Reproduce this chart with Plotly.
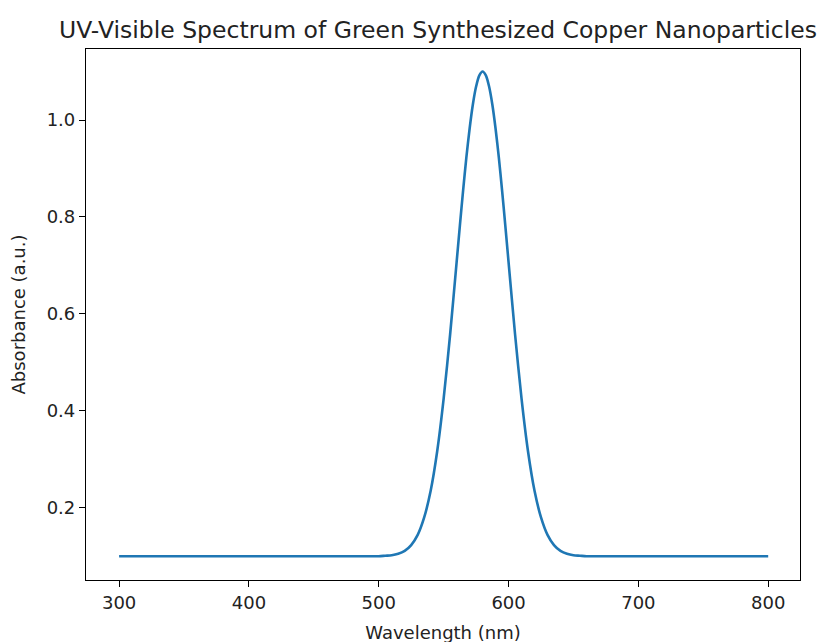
import plotly.graph_objects as go

# wavelengths (nm) and absorbance
wavelength = [300, 350, 400, 450, 490, 500, 505, 510, 515, 520, 525, 530, 535, 540, 545,
              550, 555, 560, 562.5, 565, 567.5, 570, 572.5, 575, 577.5, 580, 582.5, 585,
              587.5, 590, 592.5, 595, 597.5, 600, 605, 610, 615,
              620, 625, 630, 635, 640, 645, 650, 655, 660, 670, 700, 750, 800]
absorbance = [0.100, 0.100, 0.100, 0.100, 0.100, 0.100, 0.101, 0.102, 0.105, 0.111, 0.123,
              0.144, 0.180, 0.235, 0.316, 0.425, 0.558, 0.707, 0.782, 0.855, 0.923, 0.982,
              1.032, 1.069, 1.092, 1.100, 1.092, 1.069, 1.032, 0.982, 0.923, 0.855, 0.782,
              0.707, 0.558, 0.425, 0.316, 0.235, 0.180, 0.144, 0.123,
              0.111, 0.105, 0.102, 0.101, 0.100, 0.100, 0.100, 0.100, 0.100]

x_ticks = [300, 400, 500, 600, 700, 800]
y_ticks = [0.2, 0.4, 0.6, 0.8, 1.0]

fig = go.Figure(go.Scatter(
    x=wavelength,
    y=absorbance,
    mode='lines',
    line=dict(color='#1f77b4', width=2.6, shape='spline', smoothing=0.8),
))

axis_style = dict(
    showline=True, linecolor='black', linewidth=1.2, mirror=True,
    ticks='outside', ticklen=6, tickwidth=1.2, tickcolor='black',
    showgrid=False, zeroline=False, automargin=False,
    tickfont=dict(size=18, color='#222'),
)

# page body adds an 8px offset, margins compensate for it
fig.update_layout(
    width=830, height=642,
    paper_bgcolor='white', plot_bgcolor='white',
    margin=dict(l=78, r=38, t=41, b=70),
    font=dict(family='DejaVu Sans', color='#222'),
    showlegend=False,
    title=dict(text='UV-Visible Spectrum of Green Synthesized Copper Nanoparticles',
               x=0.518, xanchor='center', y=0.966, yanchor='middle',
               font=dict(size=23.5, color='#222')),
    xaxis=dict(axis_style, range=[274.5, 824.5], tickvals=x_ticks,
               title=dict(text='Wavelength (nm)', font=dict(size=18), standoff=14)),
    yaxis=dict(axis_style, range=[0.051, 1.1465], tickvals=y_ticks, tickformat='.1f',
               title=dict(text='Absorbance (a.u.)', font=dict(size=18), standoff=16)),
)

fig.write_html('out.html')
